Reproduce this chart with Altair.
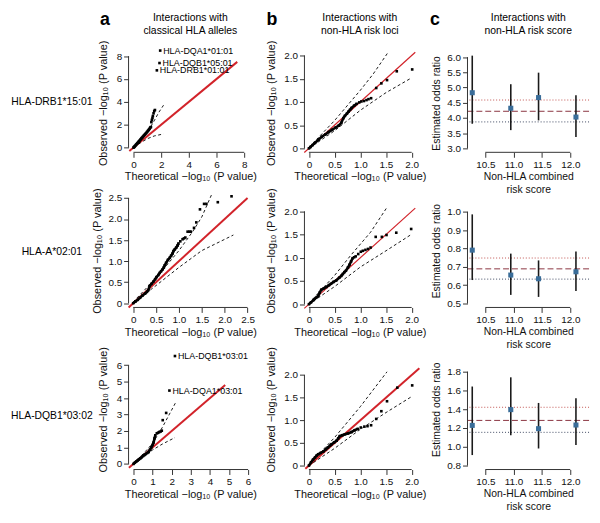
import altair as alt
import pandas as pd

FONT = "Liberation Sans"
RED = "#d2232a"
AXC = "#333333"
PTC = "#3a6d99"

XT_QQ = "Theoretical \u2212log\u2081\u2080 (P value)"
YT_QQ = "Observed \u2212log\u2081\u2080 (P value)"

# ---------------- column a : classical HLA alleles ----------------
a1_dense_x = [0.0, 0.04, 0.08, 0.12, 0.17, 0.22, 0.27, 0.32, 0.38, 0.44, 0.5, 0.56, 0.62, 0.68, 0.74, 0.8, 0.86, 0.92, 0.98, 1.04, 1.1, 1.16, 1.21]
a1_dense_y = [0.0, 0.05, 0.1, 0.16, 0.23, 0.3, 0.37, 0.44, 0.53, 0.61, 0.7, 0.79, 0.87, 0.95, 1.04, 1.12, 1.2, 1.28, 1.37, 1.46, 1.55, 1.64, 1.76]
a1_tail_x = [1.26, 1.29, 1.33, 1.37, 1.40, 1.45, 1.50, 1.55]
a1_tail_y = [1.80, 2.23, 2.43, 2.60, 2.77, 3.00, 3.20, 3.29]
a1_out_x = [1.93, 1.88, 1.69]
a1_out_y = [8.49, 7.40, 6.76]
a1_out_lab = ["HLA-DQA1*01:01", "HLA-DQB1*05:01", "HLA-DRB1*01:01"]
a1_up_x = [0.0, 0.5, 1.0, 1.5, 1.81, 2.17]
a1_up_y = [0.05, 0.65, 1.35, 2.35, 3.05, 3.71]
a1_lo_x = [0.05, 0.5, 1.0, 1.5, 2.17]
a1_lo_y = [0.03, 0.42, 0.78, 1.02, 1.2]
a1_red = [-0.3, 7.5]

a2_dense_x = [0.0, 0.05, 0.1, 0.15, 0.2, 0.26, 0.3, 0.33, 0.36, 0.4, 0.44, 0.48, 0.51, 0.55, 0.58, 0.61, 0.64, 0.67, 0.69, 0.72, 0.76, 0.8, 0.83, 0.86, 0.88, 0.91, 0.94, 0.97, 0.99]
a2_dense_y = [0.0, 0.04, 0.08, 0.13, 0.18, 0.23, 0.27, 0.31, 0.41, 0.46, 0.51, 0.57, 0.62, 0.67, 0.72, 0.76, 0.80, 0.85, 0.90, 0.96, 1.03, 1.08, 1.13, 1.18, 1.24, 1.28, 1.32, 1.37, 1.42]
a2_tail_x = [1.03, 1.08, 1.11, 1.14, 1.19, 1.23, 1.26, 1.33, 1.38, 1.46, 1.55, 1.60, 1.85, 2.15]
a2_tail_y = [1.47, 1.52, 1.54, 1.56, 1.70, 1.70, 1.70, 1.79, 1.92, 2.23, 2.36, 2.36, 2.40, 2.54]
a2_up_x = [0.0, 0.5, 1.0, 1.3, 1.5, 1.71]
a2_up_y = [0.03, 0.6, 1.25, 1.7, 2.05, 2.57]
a2_lo_x = [0.0, 0.5, 1.0, 1.5, 2.19]
a2_lo_y = [0.0, 0.42, 0.85, 1.25, 1.62]
a2_red = [-0.1, 2.5]

a3_dense_x = [0.0, 0.07, 0.14, 0.21, 0.28, 0.36, 0.43, 0.5, 0.57, 0.64, 0.71, 0.79, 0.86, 0.93, 1.0, 1.05, 1.1, 1.14]
a3_dense_y = [0.0, 0.07, 0.14, 0.2, 0.27, 0.34, 0.41, 0.48, 0.54, 0.6, 0.66, 0.72, 0.86, 1.0, 1.15, 1.3, 1.55, 1.74]
a3_tail_x = [1.22, 1.29, 1.35, 1.42, 1.48, 1.53, 1.71]
a3_tail_y = [1.86, 1.9, 1.94, 1.97, 2.02, 2.66, 3.1]
a3_out_x = [1.88, 2.17]
a3_out_y = [4.46, 6.56]
a3_out_lab = ["HLA-DQA1*03:01", "HLA-DQB1*03:01"]
a3_up_x = [0.0, 0.5, 1.0, 1.5, 2.21]
a3_up_y = [0.05, 0.6, 1.25, 2.2, 3.74]
a3_lo_x = [0.0, 0.5, 1.0, 1.5, 2.17]
a3_lo_y = [0.0, 0.45, 0.85, 1.2, 1.6]
a3_red = [-0.24, 4.8]

# ---------------- column b : non-HLA risk loci ----------------
b1_dense_x = [0.0, 0.03, 0.07, 0.12, 0.19, 0.25, 0.32, 0.38, 0.45, 0.52, 0.58, 0.63, 0.67, 0.70, 0.74, 0.77, 0.80, 0.83, 0.88, 0.93]
b1_dense_y = [0.0, 0.03, 0.07, 0.12, 0.19, 0.25, 0.30, 0.35, 0.40, 0.45, 0.49, 0.55, 0.65, 0.70, 0.75, 0.79, 0.83, 0.87, 0.92, 0.96]
b1_tail_x = [0.98, 1.02, 1.07, 1.12, 1.16, 1.21, 1.31, 1.41, 1.52, 1.71, 2.01]
b1_tail_y = [0.99, 1.01, 1.02, 1.04, 1.06, 1.08, 1.30, 1.40, 1.47, 1.66, 1.70]
b1_up_x = [0.0, 0.5, 1.0, 1.25, 1.53]
b1_up_y = [0.02, 0.6, 1.25, 1.6, 2.05]
b1_lo_x = [0.0, 0.5, 1.0, 1.5, 2.0]
b1_lo_y = [0.0, 0.38, 0.82, 1.2, 1.52]
b1_red = [-0.09, 2.07]

b2_dense_x = [0.0, 0.04, 0.09, 0.14, 0.18, 0.21, 0.24, 0.29, 0.34, 0.39, 0.43, 0.48, 0.53, 0.59, 0.63, 0.66, 0.69, 0.72, 0.76, 0.79, 0.82, 0.85]
b2_dense_y = [0.0, 0.04, 0.09, 0.14, 0.18, 0.25, 0.31, 0.34, 0.37, 0.41, 0.44, 0.48, 0.51, 0.57, 0.61, 0.65, 0.69, 0.72, 0.79, 0.85, 0.92, 0.99]
b2_tail_x = [0.88, 0.91, 0.96, 1.01, 1.05, 1.10, 1.15, 1.20, 1.30, 1.42, 1.51, 1.70, 1.99]
b2_tail_y = [1.01, 1.03, 1.08, 1.13, 1.15, 1.17, 1.19, 1.22, 1.45, 1.45, 1.49, 1.54, 1.62]
b2_up_x = [0.0, 0.5, 0.82, 1.2, 1.51]
b2_up_y = [0.02, 0.62, 1.06, 1.55, 2.07]
b2_lo_x = [0.0, 0.5, 1.0, 1.5, 1.99]
b2_lo_y = [0.0, 0.38, 0.8, 1.15, 1.5]
b2_red = [-0.09, 2.07]

b3_dense_x = [0.0, 0.04, 0.08, 0.12, 0.15, 0.18, 0.23, 0.28, 0.33, 0.37, 0.41, 0.44, 0.49, 0.54, 0.57, 0.6, 0.65, 0.7, 0.76, 0.83, 0.89, 0.95]
b3_dense_y = [0.0, 0.07, 0.13, 0.18, 0.22, 0.25, 0.28, 0.31, 0.36, 0.40, 0.44, 0.47, 0.51, 0.55, 0.6, 0.65, 0.67, 0.69, 0.71, 0.74, 0.78, 0.81]
b3_tail_x = [1.01, 1.08, 1.14, 1.21, 1.31, 1.41, 1.52, 1.72, 2.01]
b3_tail_y = [0.84, 0.86, 0.87, 0.89, 1.03, 1.2, 1.42, 1.72, 1.77]
b3_up_x = [0.0, 0.5, 1.0, 1.52]
b3_up_y = [0.02, 0.62, 1.3, 2.07]
b3_lo_x = [0.0, 0.5, 1.0, 1.5, 2.01]
b3_lo_y = [0.0, 0.38, 0.8, 1.17, 1.53]
b3_red = [-0.07, 2.15]

# ---------------- column c : non-HLA risk score ----------------
score_x = [10.27, 10.95, 11.44, 12.10]
c1_or = [4.83, 4.32, 4.67, 4.03]
c1_lo = [3.81, 3.60, 3.92, 3.37]
c1_hi = [6.05, 5.11, 5.49, 4.75]
c1_lines = [4.59, 4.22, 3.87]
c2_or = [0.791, 0.655, 0.635, 0.673]
c2_lo = [0.628, 0.547, 0.536, 0.568]
c2_hi = [0.986, 0.772, 0.735, 0.784]
c2_lines = [0.748, 0.689, 0.633]
c3_or = [1.228, 1.396, 1.193, 1.232]
c3_lo = [0.912, 1.123, 0.982, 1.018]
c3_hi = [1.642, 1.740, 1.467, 1.516]
c3_lines = [1.421, 1.281, 1.154]

row_labels = ["HLA-DRB1*15:01", "HLA-A*02:01", "HLA-DQB1*03:02"]
col_titles = [["Interactions with", "classical HLA alleles"],
              ["Interactions with", "non-HLA risk loci"],
              ["Interactions with", "non-HLA risk score"]]
letters = ["a", "b", "c"]

W = [125, 112, 123]
H = [100, 115, 122]

DEC = "datum.value == 0 ? '0' : format(datum.value, '.1f')"
INT = "format(datum.value, 'd')"
ONE = "format(datum.value, '.1f')"


def txt(s, x, y, size, weight="normal", align="center", baseline="alphabetic"):
    return alt.Chart(alt.Data(values=[{"k": 1}])).mark_text(
        text=s, fontSize=size, fontWeight=weight, align=align, baseline=baseline,
        font=FONT, color="black").encode(x=alt.value(x), y=alt.value(y))


def make_axes(xdom, ydom, xt, yt, xexpr, yexpr, xtitle, ytitle, ytx, xty=25, xbase="middle", tsize=11):
    common = dict(domain=False, grid=False, ticks=True, tickSize=5, tickColor=AXC, tickWidth=1,
                  labelFont=FONT, labelFontSize=10, labelColor="#111111", labelPadding=2,
                  titleFont=FONT, titleFontSize=tsize, titleFontWeight="normal", titleColor="#111111",
                  titleLineHeight=13, titleAnchor="middle")
    xa = alt.Axis(values=xt, labelExpr=xexpr, title=xtitle, titleY=xty, titleBaseline=xbase, **common)
    ya = alt.Axis(values=yt, labelExpr=yexpr, title=ytitle, titleX=ytx, titleBaseline="middle", **common)
    def X(f="x"):
        return alt.X(f"{f}:Q", scale=alt.Scale(domain=xdom, nice=False, zero=False), axis=xa)
    def Y(f="y"):
        return alt.Y(f"{f}:Q", scale=alt.Scale(domain=ydom, nice=False, zero=False), axis=ya)
    return X, Y


def axis_lines(X, Y, xt, yt, h):
    xl = alt.Chart(pd.DataFrame({"x": [xt[0]], "x2": [xt[-1]]})).mark_rule(
        color=AXC, strokeWidth=1).encode(x=X(), x2="x2:Q", y=alt.value(h))
    yl = alt.Chart(pd.DataFrame({"y": [yt[0]], "y2": [yt[-1]]})).mark_rule(
        color=AXC, strokeWidth=1).encode(y=Y(), y2="y2:Q", x=alt.value(0))
    return [xl, yl]


def deco(col, row, w):
    layers = []
    if row == 0:
        lx = {0: -24, 1: -33, 2: -33}[col]
        layers.append(txt(letters[col], lx, -29, 18, weight="bold"))
        layers.append(txt(col_titles[col][0], w / 2, -32.5, 10.5))
        layers.append(txt(col_titles[col][1], w / 2, -19.7, 10.5))
    if col == 0:
        ly = {0: 52, 1: 62.3, 2: 71.3}[row]
        layers.append(txt(row_labels[row], -77.6, ly, 10.5))
    return layers


def qq_panel(col, row, xdom, ydom, xt, yt, xexpr, yexpr, ytx,
             dx, dy, tx, ty, ux, uy, lx, ly, red, red_w,
             ox=None, oy=None, olab=None):
    w, h = W[col], H[row]
    X, Y = make_axes(xdom, ydom, xt, yt, xexpr, yexpr, XT_QQ, YT_QQ, ytx)
    red_l = alt.Chart(pd.DataFrame({"x": red, "y": red})).mark_line(
        color=RED, strokeWidth=red_w).encode(x=X(), y=Y())
    env = alt.Chart(pd.DataFrame({
        "x": ux + lx, "y": uy + ly,
        "g": ["u"] * len(ux) + ["l"] * len(lx)})).mark_line(
        color="black", strokeWidth=0.9, strokeDash=[3, 2.5]).encode(
        x=X(), y=Y(), detail="g:N")
    ddf = pd.DataFrame({"x": dx, "y": dy})
    dline = alt.Chart(ddf).mark_line(color="black", strokeWidth=2.6).encode(x=X(), y=Y())
    dpts = alt.Chart(ddf).mark_square(color="black", size=7, opacity=1).encode(x=X(), y=Y())
    tpts = alt.Chart(pd.DataFrame({"x": tx, "y": ty})).mark_square(
        color="black", size=7, opacity=1).encode(x=X(), y=Y())
    layers = [red_l, env, dline, dpts, tpts] + axis_lines(X, Y, xt, yt, h)
    if ox:
        odf = pd.DataFrame({"x": ox, "y": oy, "lab": olab})
        layers.append(alt.Chart(odf).mark_square(color="black", size=7, opacity=1).encode(x=X(), y=Y()))
        layers.append(alt.Chart(odf).mark_text(
            align="left", baseline="middle", dx=3, fontSize=9, font=FONT, color="black").encode(
            x=X(), y=Y(), text="lab:N"))
    layers += deco(col, row, w)
    return alt.layer(*layers).properties(width=w, height=h)


def or_panel(row, ydom, yt, ors, los, his, lines):
    col = 2
    w, h = W[col], H[row]
    xt = [10.5, 11.0, 11.5, 12.0]
    X, Y = make_axes([10.186, 12.331], ydom, xt, yt, ONE, ONE,
                     ["Non-HLA combined", "risk score"], "Estimated odds ratio", -31,
                     xty=19.5, xbase="top", tsize=10.5)
    styles = [("#c0504d", [1, 2]), ("#8a3440", [6, 3]), ("#3c4660", [1, 2])]
    layers = []
    for v, (c, d) in zip(lines, styles):
        layers.append(alt.Chart(pd.DataFrame({"y": [v]})).mark_rule(
            color=c, strokeDash=d, strokeWidth=1).encode(y=Y()))
    layers.append(alt.Chart(pd.DataFrame({"x": score_x, "y": los, "y2": his})).mark_rule(
        color="#1a1a1a", strokeWidth=1.6).encode(x=X(), y=Y(), y2="y2:Q"))
    layers.append(alt.Chart(pd.DataFrame({"x": score_x, "y": ors})).mark_square(
        color=PTC, size=26, opacity=1).encode(x=X(), y=Y()))
    layers += axis_lines(X, Y, xt, yt, h)
    layers += deco(col, row, w)
    return alt.layer(*layers).properties(width=w, height=h)


panels = [
    qq_panel(0, 0, [-0.357, 8.571], [-0.41, 8.233], [0, 2, 4, 6, 8], [0, 2, 4, 6, 8], INT, INT, -25,
             a1_dense_x, a1_dense_y, a1_tail_x, a1_tail_y, a1_up_x, a1_up_y, a1_lo_x, a1_lo_y,
             a1_red, 2, a1_out_x, a1_out_y, a1_out_lab),
    qq_panel(1, 0, [-0.087, 2.067], [-0.085, 2.043], [0, 0.5, 1, 1.5, 2], [0, 0.5, 1, 1.5, 2], DEC, DEC, -33,
             b1_dense_x, b1_dense_y, b1_tail_x, b1_tail_y, b1_up_x, b1_up_y, b1_lo_x, b1_lo_y,
             b1_red, 1.2),
    or_panel(0, [2.87, 6.12], [3.0, 3.5, 4.0, 4.5, 5.0, 5.5, 6.0], c1_or, c1_lo, c1_hi, c1_lines),
    qq_panel(0, 1, [-0.101, 2.599], [-0.101, 2.599], [0, 0.5, 1, 1.5, 2, 2.5], [0, 0.5, 1, 1.5, 2, 2.5], DEC, DEC, -31,
             a2_dense_x, a2_dense_y, a2_tail_x, a2_tail_y, a2_up_x, a2_up_y, a2_lo_x, a2_lo_y,
             a2_red, 2),
    qq_panel(1, 1, [-0.087, 2.067], [-0.070, 2.377], [0, 0.5, 1, 1.5, 2], [0, 0.5, 1, 1.5, 2], DEC, DEC, -33,
             b2_dense_x, b2_dense_y, b2_tail_x, b2_tail_y, b2_up_x, b2_up_y, b2_lo_x, b2_lo_y,
             b2_red, 1.2),
    or_panel(1, [0.4785, 1.098], [0.5, 0.6, 0.7, 0.8, 0.9, 1.0], c2_or, c2_lo, c2_hi, c2_lines),
    qq_panel(0, 2, [-0.259, 6.207], [-0.342, 6.99], [0, 1, 2, 3, 4, 5, 6], [0, 1, 2, 3, 4, 5, 6], INT, INT, -25,
             a3_dense_x, a3_dense_y, a3_tail_x, a3_tail_y, a3_up_x, a3_up_y, a3_lo_x, a3_lo_y,
             a3_red, 2, a3_out_x, a3_out_y, a3_out_lab),
    qq_panel(1, 2, [-0.087, 2.067], [-0.087, 2.574], [0, 0.5, 1, 1.5, 2], [0, 0.5, 1, 1.5, 2], DEC, DEC, -33,
             b3_dense_x, b3_dense_y, b3_tail_x, b3_tail_y, b3_up_x, b3_up_y, b3_lo_x, b3_lo_y,
             b3_red, 2),
    or_panel(2, [0.758, 2.042], [0.8, 1.0, 1.2, 1.4, 1.6, 1.8], c3_or, c3_lo, c3_hi, c3_lines),
]

chart = alt.concat(*panels, columns=3, spacing={"row": 42, "column": 53},
                   bounds="flush", align="each").properties(
    padding={"left": 2, "top": 0, "right": 2, "bottom": 2},
    background="white"
).configure_view(stroke=None)

chart.save("out.html", embed_options={"renderer": "svg", "actions": False})
